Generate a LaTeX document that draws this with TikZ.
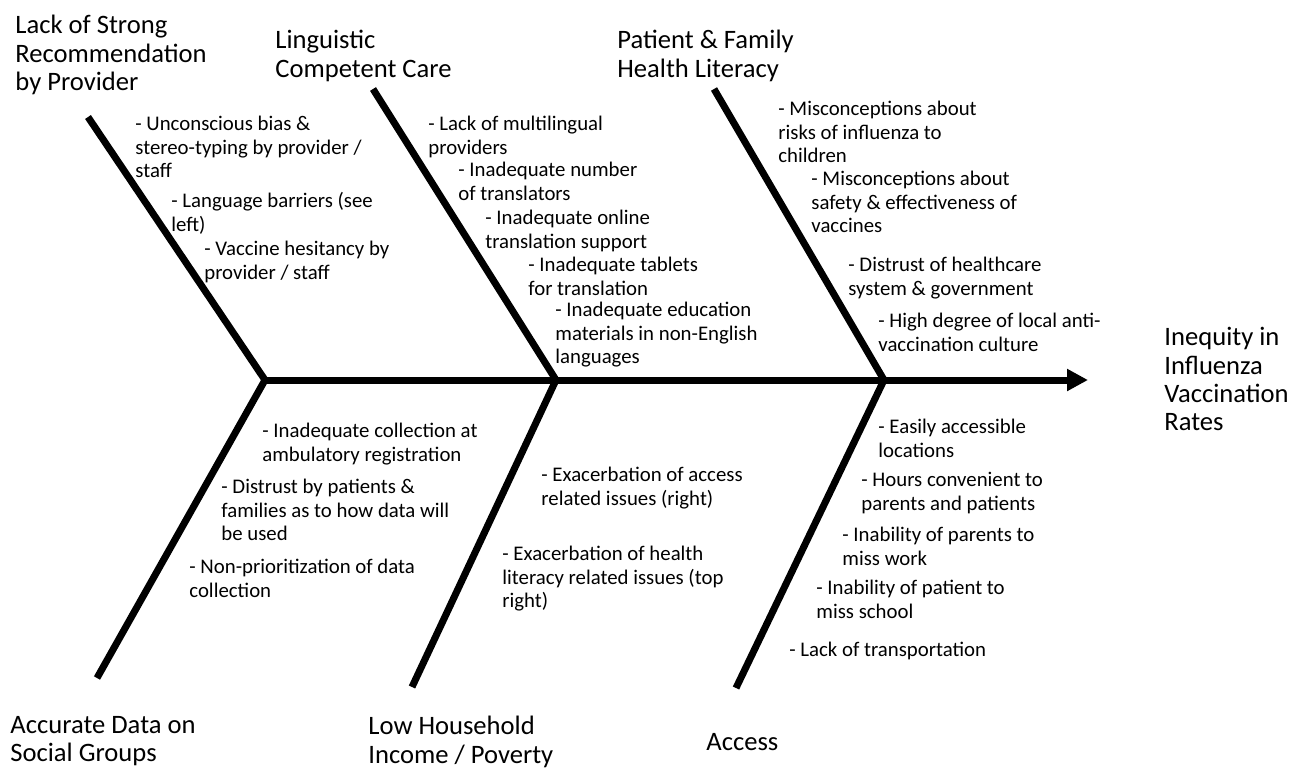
\documentclass[tikz,border=0pt]{standalone}
\usepackage{fontspec}
\setmainfont{Carlito}
\usetikzlibrary{arrows.meta}

\begin{document}
\begin{tikzpicture}[x=0.5pt,y=-0.5pt,
  bone/.style={line width=3.5pt},
  cause/.style={anchor=north west,align=left,inner sep=0pt,font=\fontsize{13.3}{14.2}\selectfont},
  item/.style={anchor=north west,align=left,inner sep=0pt,font=\fontsize{10.4}{11.7}\selectfont}]
% whole page, one unit per pixel
\useasboundingbox (0,0) rectangle (1292,767);

% joints on the spine and the free ends of the six bones
\coordinate (j1) at (265,380);
\coordinate (j2) at (556,380);
\coordinate (j3) at (884,380);
\coordinate (head) at (1088,380);
\coordinate (t1) at (88,117);
\coordinate (t2) at (373,89);
\coordinate (t3) at (714,89);
\coordinate (b1) at (97,678);
\coordinate (b2) at (412,687);
\coordinate (b3) at (736,688);

\draw[bone,-{Triangle[length=10.5pt,width=10.5pt]}] (j1) -- (head);
\draw[bone] (t1) -- (j1) -- (b1);
\draw[bone] (t2) -- (j2) -- (b2);
\draw[bone] (t3) -- (j3) -- (b3);

% effect
\node[cause] (effect) at (1164,327) {Inequity in\\Influenza\\Vaccination\\Rates};

% top causes
\node[cause] (provider) at (15,15) {Lack of Strong\\Recommendation\\by Provider};
\node[cause] (lingo) at (275,30) {Linguistic\\Competent Care};
\node[cause] (literacy) at (617,30) {Patient \& Family\\Health Literacy};

\node[item] (bias) at (135,116) {- Unconscious bias \&\\stereo-typing by provider /\\staff};
\node[item] (lang) at (171,192) {- Language barriers (see\\left)};
\node[item] (hesit) at (204,241) {- Vaccine hesitancy by\\provider / staff};

\node[item] (multi) at (428,116) {- Lack of multilingual\\providers};
\node[item] (transl) at (458,162) {- Inadequate number\\of translators};
\node[item] (online) at (485,210) {- Inadequate online\\translation support};
\node[item] (tablets) at (528,257) {- Inadequate tablets\\for translation};
\node[item] (educ) at (555,302) {- Inadequate education\\materials in non-English\\languages};

\node[item] (risks) at (778,101) {- Misconceptions about\\risks of influenza to\\children};
\node[item] (safety) at (811,171) {- Misconceptions about\\safety \& effectiveness of\\vaccines};
\node[item] (distrust) at (848,257) {- Distrust of healthcare\\system \& government};
\node[item] (anti) at (878,313) {- High degree of local anti-\\vaccination culture};

% bottom causes
\node[cause] (data) at (10,716) {Accurate Data on\\Social Groups};
\node[cause] (income) at (368,716) {Low Household\\Income / Poverty};
\node[cause] (access) at (706,733) {Access};

\node[item] (collect) at (262,423) {- Inadequate collection at\\ambulatory registration};
\node[item] (trust) at (221,479) {- Distrust by patients \&\\families as to how data will\\be used};
\node[item] (prio) at (189,559) {- Non-prioritization of data\\collection};

\node[item] (exacc) at (541,467) {- Exacerbation of access\\related issues (right)};
\node[item] (exlit) at (502,546) {- Exacerbation of health\\literacy related issues (top\\right)};

\node[item] (locs) at (878,419) {- Easily accessible\\locations};
\node[item] (hours) at (861,472) {- Hours convenient to\\parents and patients};
\node[item] (work) at (842,527) {- Inability of parents to\\miss work};
\node[item] (school) at (816,580) {- Inability of patient to\\miss school};
\node[item] (transp) at (789,642) {- Lack of transportation};
\end{tikzpicture}
\end{document}
